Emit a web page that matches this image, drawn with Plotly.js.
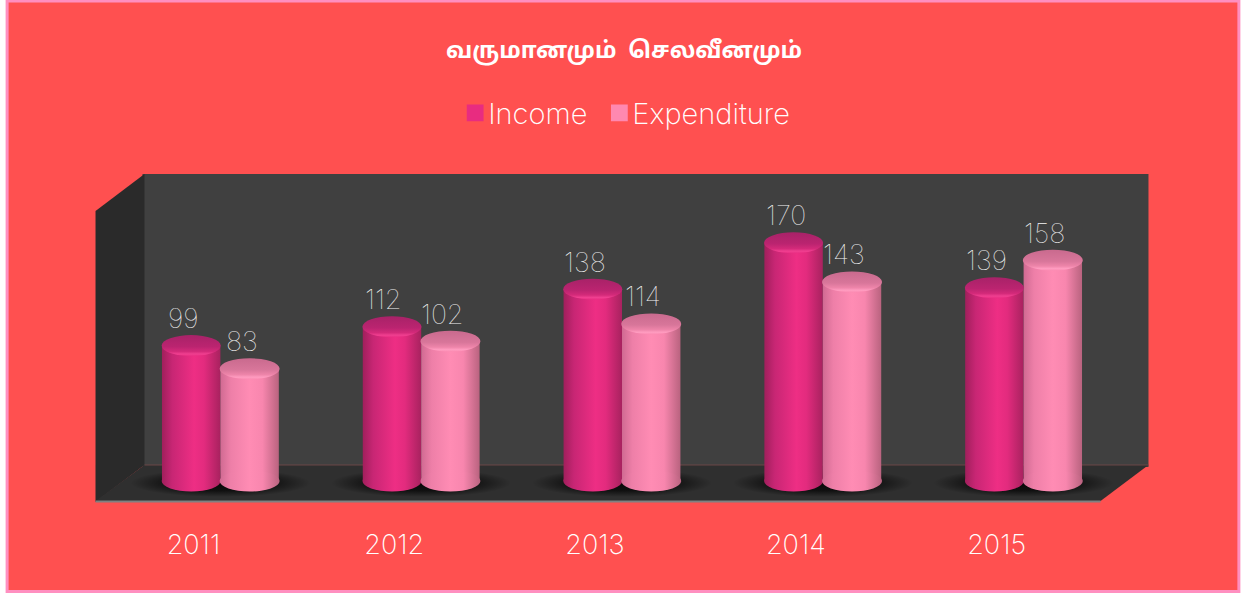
<!DOCTYPE html>
<html><head><meta charset="utf-8">
<script src="https://cdn.plot.ly/plotly-3.0.1.min.js"></script>
<style>html,body{margin:0;padding:0;background:#fff;overflow:hidden}</style>
</head><body><div id="chart" style="width:1251px;height:593px"></div>
<script>
const categories = ['2011','2012','2013','2014','2015'];
const income = [99,112,138,170,139];
const expenditure = [83,102,114,143,158];
const titleText = 'வருமானமும்&nbsp;&nbsp;செலவீனமும்';
const thinFont = 'Inter, Lato, sans-serif';

const L=119.5, W=1005, T=174, B=481;
const px=x=>(x-L)/W, py=y=>(B-y)/(B-T);
const poly=pts=>'M'+pts.map(p=>px(p[0])+','+py(p[1])).join('L')+'Z';
const paperPoly=(pts,fill)=>({type:'path',xref:'paper',yref:'paper',path:poly(pts),fillcolor:fill,line:{width:0},layer:'below'});

const shapes=[], grad={};
shapes.push({type:'rect',xref:'paper',yref:'paper',x0:px(6.5),x1:px(1239.5),y0:py(591.5),y1:py(1),fillcolor:'#ff5050',line:{color:'#ff8fc0',width:3},layer:'below'});
shapes.push(paperPoly([[142,174],[1149,174],[1149,467],[142,467]],'#404040'));
shapes.push(paperPoly([[95,211],[144,174],[144,465],[95,502]],'#2a2a2a'));
shapes.push(paperPoly([[144,465],[1149,465],[1101,501],[95,501]],'#2f2f2f'));
shapes.push({type:'line',xref:'paper',yref:'paper',x0:px(144),x1:px(1149),y0:py(465),y1:py(465),line:{color:'#6b4646',width:1},layer:'below'});
shapes.push({type:'line',xref:'paper',yref:'paper',x0:px(95),x1:px(1101),y0:py(501.5),y1:py(501.5),line:{color:'#808080',width:2},layer:'below'});

const off=0.1455, BW=59, RY=10.5;
function ell(x,y,w,h,g,layer,dy){
  grad[shapes.length]=g;
  shapes.push({type:'circle',xref:'x',yref:'y',xsizemode:'pixel',ysizemode:'pixel',xanchor:x,yanchor:y,
    x0:-w/2,x1:w/2,y0:-h/2+(dy||0),y1:h/2+(dy||0),fillcolor:'#000',line:{width:0},layer:layer||'above'});
}
const base=5.5;
categories.forEach((c,i)=>ell(i,base,180,28,'gShadow','below',-2));
categories.forEach((c,i)=>{
  ell(i-off,base,BW,RY*2,'gIncome');
  ell(i+off,base,BW+1,RY*2,'gExp');
});
const annotations=[];
const lab=(x,v)=>({x:x,y:v,xref:'x',yref:'y',text:String(v),showarrow:false,xshift:-8,yshift:27,font:{family:thinFont,weight:100,size:27,color:'#f4f4f4'}});
categories.forEach((c,i)=>{
  ell(i-off,income[i],BW,RY*2,'gIncomeTop');
  annotations.push(lab(i-off,income[i]));
});
categories.forEach((c,i)=>{
  ell(i+off,expenditure[i],BW+1,RY*2,'gExpTop');
  annotations.push(lab(i+off,expenditure[i]));
});

const data=[
 {type:'bar',name:'Income',x:categories,y:income,marker:{color:'#e82c80',line:{width:0}},hoverinfo:'skip'},
 {type:'bar',name:'Expenditure',x:categories,y:expenditure,marker:{color:'#ff88b0',line:{width:0}},hoverinfo:'skip'}
];
const layout={
 width:1251,height:593,margin:{l:L,r:1251-L-W,t:T,b:593-B,pad:0},
 paper_bgcolor:'#fff',plot_bgcolor:'rgba(0,0,0,0)',
 title:{text:titleText,x:624/1251,xref:'container',xanchor:'center',y:1-50/593,yref:'container',yanchor:'middle',
   font:{family:'"Noto Sans Tamil","Noto Sans",sans-serif',size:23,weight:700,color:'#fff'}},
 barmode:'group',bargap:0.418,bargroupgap:0,
 xaxis:{type:'category',range:[-0.5,4.5],showgrid:false,zeroline:false,showline:false,ticks:'',ticklabelshift:-27,ticklabelstandoff:45,
   tickfont:{family:thinFont,weight:200,size:27,color:'#ffffff'},fixedrange:true},
 yaxis:{range:[base,base+(B-T)/1.448],visible:false,fixedrange:true},
 showlegend:true,
 legend:{orientation:'h',x:px(448),xanchor:'left',y:py(113),yanchor:'middle',bgcolor:'rgba(0,0,0,0)',font:{family:thinFont,weight:200,size:29,color:'#ffffff'},traceorder:'normal'},
 shapes:shapes,annotations:annotations
};
const NS='http://www.w3.org/2000/svg';
function stop(e,o,c,a){const s=document.createElementNS(NS,'stop');s.setAttribute('offset',o);s.setAttribute('stop-color',c);if(a!==undefined)s.setAttribute('stop-opacity',a);e.appendChild(s);}
function linear(defs,id,stops,vertical){const g=document.createElementNS(NS,'linearGradient');g.id=id;if(vertical){g.setAttribute('x1','0');g.setAttribute('y1','0');g.setAttribute('x2','0');g.setAttribute('y2','1');}stops.forEach(s=>stop(g,s[0],s[1]));defs.appendChild(g);}
Plotly.newPlot('chart',data,layout,{displayModeBar:false,staticPlot:true}).then(gd=>{
  const defs=gd.querySelector('.main-svg defs');
  const I=[['0%','#a11f5c'],['18%','#c82674'],['55%','#ee2e84'],['72%','#e32b7e'],['100%','#a8225f']];
  const E=[['0%','#d06a92'],['18%','#ee7fa8'],['50%','#ff8cb4'],['72%','#f886ae'],['100%','#b9637f']];
  linear(defs,'gIncome',I);linear(defs,'gExp',E);
  linear(defs,'gIncomeTop',[['0%','#a82268'],['55%','#bb2470'],['78%','#d42a7a'],['90%','#f03f90'],['100%','#e92d82']],true);
  linear(defs,'gExpTop',[['0%','#c96a8e'],['55%','#d8769a'],['78%','#ee85aa'],['90%','#ff9cc0'],['100%','#fb8bb2']],true);
  const r=document.createElementNS(NS,'radialGradient');r.id='gShadow';
  stop(r,'0%','#000',0.85);stop(r,'55%','#000',0.65);stop(r,'100%','#000',0);defs.appendChild(r);
  gd.querySelectorAll('.shapelayer path[data-index]').forEach(p=>{
    const g=grad[p.getAttribute('data-index')];
    if(g){p.style.fill='url(#'+g+')';p.style.fillOpacity=1;}
  });
  gd.querySelectorAll('.shapelayer [clip-path], .shapelayer[clip-path]').forEach(n=>{n.removeAttribute('clip-path');});
  gd.querySelectorAll('.barlayer .trace').forEach((t,k)=>{
    t.querySelectorAll('path').forEach(p=>{p.style.fill='url(#'+(k?'gExp':'gIncome')+')';});
  });
  gd.querySelectorAll('.legend .traces').forEach((t,k)=>{
    const p=t.querySelector('.legendpoints path, .layers path, path');
    if(p){p.setAttribute('transform','translate(27,0) scale(1.4)');}
  });
});
</script></body></html>
